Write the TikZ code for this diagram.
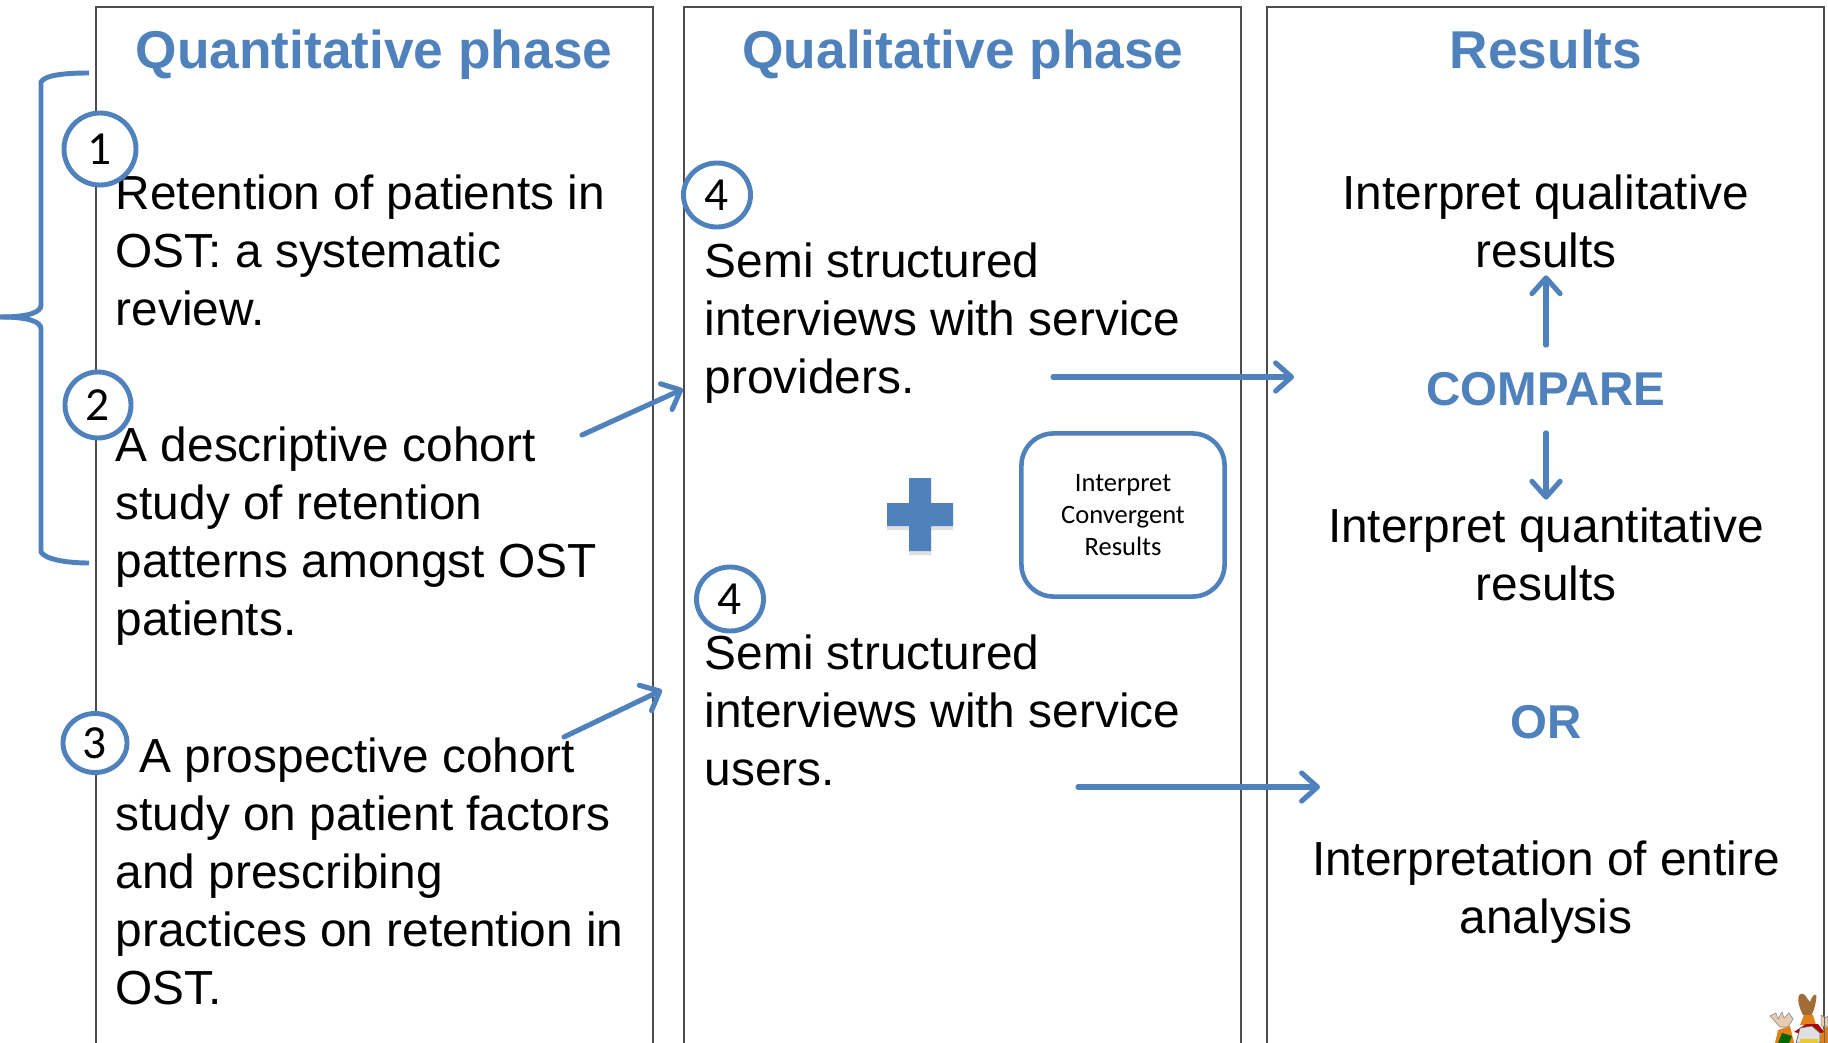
\documentclass[tikz,border=0pt]{standalone}
\usepackage{fontspec}
\setmainfont{Liberation Sans}
\newfontfamily\calibrifont{Carlito}
\usetikzlibrary{arrows.meta}
\usetikzlibrary{shadows}
\usetikzlibrary{shapes.geometric}
\definecolor{phaseblue}{HTML}{4F81BD}
\tikzset{
	colline/.style={draw=black!70, line width=1.1pt*0.28},
	headtext/.style={text=phaseblue, anchor=base, font=\fontsize{15.15}{18}\selectfont\bfseries, inner sep=0},
	bluetext/.style={text=phaseblue, font=\fontsize{13.5}{16}\selectfont\bfseries},
	bodytext/.style={align=left, anchor=north west, inner sep=0, font=\fontsize{13.6}{16.5}\selectfont},
	midtext/.style={align=center, anchor=center, inner sep=2pt, font=\fontsize{13.6}{16.5}\selectfont},
	stepmark/.style={ellipse, draw=phaseblue, line width=1.4pt, fill=none, inner sep=0, font=\calibrifont\fontsize{13.5}{14}\selectfont},
	flow/.style={draw=phaseblue, line width=1.45pt, line cap=round, -{Straight Barb[length=4.5pt,width=8pt,round]}},
	softshade/.style={drop shadow={shadow xshift=0pt, shadow yshift=-1.2pt, opacity=.2, fill=black!60}}
}
\begin{document}
\begin{tikzpicture}[x=0.01cm,y=-0.01cm]
	\useasboundingbox (0,0) rectangle (1828,1043);
	
	% Colunas
	\draw[colline] (96,1043) -- (96,7) -- (653,7) -- (653,1043);
	\draw[colline] (684,1043) -- (684,7) -- (1241,7) -- (1241,1043);
	\draw[colline] (1267,1043) -- (1267,7) -- (1824,7) -- (1824,1043);
	
	% Titulos
	\node[headtext] (quanthead) at (374,69) {Quantitative phase};
	\node[headtext] (qualhead) at (963,69) {Qualitative phase};
	\node[headtext] (reshead) at (1546,69) {Results};
	
	% Chave
	\draw[phaseblue, line width=1.4pt] (89,73) .. controls (65,73) and (45,75) .. (41,82) -- (41,305) .. controls (41,312) and (30,317) .. (0,317);
	\draw[phaseblue, line width=1.4pt] (0,317) .. controls (30,317) and (41,322) .. (41,329) -- (41,552) .. controls (45,559) and (65,563) .. (89,563);
	
	% Textos da fase quantitativa
	\node[bodytext] (retention) at (115,174) {Retention of patients in\\OST: a systematic\\review.};
	\node[bodytext] (descriptive) at (115,426) {A descriptive cohort\\study of retention\\patterns amongst OST\\patients.};
	\node[bodytext] (prospective) at (115,737) {\hspace{6.7pt}A prospective cohort\\study on patient factors\\and prescribing\\practices on retention in\\OST.};
	
	% Circulos
	\node[stepmark, minimum width=0.72cm, minimum height=0.72cm, fill=white] (one) at (100,149) {1};
	\node[stepmark, minimum width=0.66cm, minimum height=0.66cm, fill=white] (two) at (98,405) {2};
	\node[stepmark, minimum width=0.64cm, minimum height=0.59cm, fill=white] (three) at (95,743) {3};
	\node[stepmark, minimum width=0.67cm, minimum height=0.64cm] (foura) at (717,195) {4};
	\node[stepmark, minimum width=0.67cm, minimum height=0.64cm] (fourb) at (730,599) {4};
	
	% Textos da fase qualitativa
	\node[bodytext] (providers) at (704,242) {Semi structured\\interviews with service\\providers.};
	\node[bodytext] (users) at (704,634) {Semi structured\\interviews with service\\users.};
	
	% Mais
	\fill[phaseblue, softshade] (909,478) -- (931,478) -- (931,503) -- (953,503) -- (953,526) -- (931,526) -- (931,551) -- (909,551) -- (909,526) -- (887,526) -- (887,503) -- (909,503) -- cycle;
	
	% Caixa
	\node[draw=phaseblue, line width=1.3pt, rounded corners=0.32cm, minimum width=2.03cm, minimum height=1.63cm, align=center, inner sep=0, font=\calibrifont\fontsize{7.55}{9.1}\selectfont] (convergent) at (1123,515) {Interpret\\Convergent\\Results};
	
	% Resultados
	\node[midtext] (interpqual) at (1546,221) {Interpret qualitative\\results};
	\node[bluetext, inner xsep=0, inner ysep=7.5pt] (compare) at (1546,389) {COMPARE};
	\node[midtext] (interpquant) at (1546,554) {Interpret quantitative\\results};
	\node[bluetext, inner sep=0] (orword) at (1546,722) {OR};
	\node[midtext] (entire) at (1546,892) {Interpretation of entire\\analysis};
	
	% Setas
	\coordinate (atail) at (582,435);
	\coordinate (ahead) at (683,389);
	\coordinate (btail) at (564,737);
	\coordinate (bhead) at (662,690);
	\coordinate (ctail) at (1053,377);
	\coordinate (chead) at (1294,377);
	\coordinate (dtail) at (1078,787);
	\coordinate (dhead) at (1320,787);
	\draw[flow] (atail) -- (ahead);
	\draw[flow] (btail) -- (bhead);
	\draw[flow] (ctail) -- (chead);
	\draw[flow] (dtail) -- (dhead);
	\draw[flow] (compare.north) -- (interpqual.south);
	\draw[flow] (compare.south) -- (interpquant.north);
	
	% Brasao
	\fill[brown!85!black] (1803,1015) .. controls (1795,1000) and (1798,990) .. (1805,995) .. controls (1807,998) and (1808,1000) .. (1810,1002) .. controls (1812,995) and (1818,990) .. (1816,1000) .. controls (1815,1008) and (1813,1012) .. (1811,1016) -- cycle;
	\fill[orange!55!brown] (1804,1015) -- (1813,1015) -- (1816,1025) -- (1800,1025) -- cycle;
	\fill[orange!60!brown] (1775,1043) -- (1778,1030) -- (1790,1026) -- (1794,1043) -- cycle;
	\fill[orange!60!brown] (1818,1043) -- (1822,1030) -- (1828,1026) -- (1828,1043) -- cycle;
	\fill[brown!40!white, draw=black!50, line width=0.15pt] (1770,1016) -- (1776,1013) -- (1778,1019) -- (1782,1012) -- (1784,1018) -- (1789,1013) -- (1793,1019) -- (1788,1027) -- (1780,1027) -- cycle;
	\fill[brown!40!white, draw=black!50, line width=0.15pt] (1821,1015) -- (1825,1018) -- (1828,1016) -- (1828,1027) -- (1821,1026) -- cycle;
	\fill[red!70!black] (1794,1032) -- (1806,1024) -- (1818,1024) -- (1824,1032) -- (1812,1036) -- cycle;
	\fill[green!40!black] (1778,1043) -- (1782,1033) -- (1792,1036) -- (1789,1043) -- cycle;
	\fill[white!88!black, draw=black!60, line width=0.2pt] (1796,1043) -- (1800,1028) -- (1812,1026) -- (1820,1033) -- (1820,1043) -- cycle;
	\fill[yellow!60!brown] (1800,1043) -- (1800,1039) -- (1818,1039) -- (1818,1043) -- cycle;
	\draw[black!60, line width=0.2pt] (1824,1015) -- (1824,1043);
\end{tikzpicture}
\end{document}
